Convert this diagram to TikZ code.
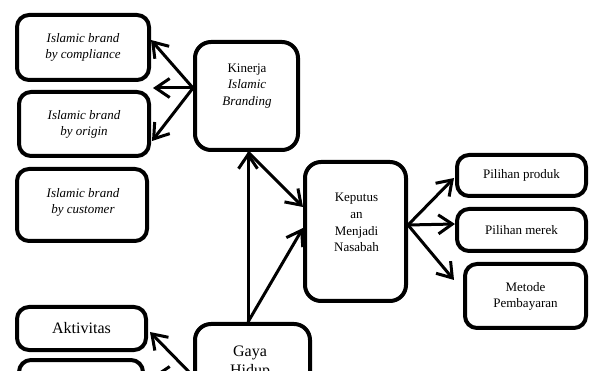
\documentclass[tikz,border=0pt]{standalone}
\usepackage{fontspec}
\setmainfont{Liberation Serif}
\usetikzlibrary{arrows.meta,calc}
\begin{document}
\begin{tikzpicture}[x=1pt,y=-1pt,
  box/.style={draw, line width=4pt, rounded corners=12pt, inner sep=0pt, align=center,
    font=\fontsize{13}{16}\selectfont},
  bigbox/.style={box, rounded corners=16pt},
  txt/.style={inner sep=0pt, align=center, font=\fontsize{13}{16.7}\selectfont},
  bigtxt/.style={inner sep=0pt, align=center, font=\fontsize{16}{19}\selectfont},
  arr/.style={line width=3pt, -{Straight Barb[length=14pt,width=19pt]}}]
\useasboundingbox (0,0) rectangle (589,371);
\clip (0,0) rectangle (589,371);

% left upper boxes
\node[box, minimum width=132pt, minimum height=65pt] (c1) at (83,47.5) {\textit{Islamic brand}\\\textit{by compliance}};
\node[box, minimum width=130pt, minimum height=64pt] (c2) at (84,124) {\textit{Islamic brand}\\\textit{by origin}};
\node[box, minimum width=130pt, minimum height=72pt] (c3) at (82,205) {};
\node[txt, font=\fontsize{13}{16}\selectfont] (c3t) at (83,202) {\textit{Islamic brand}\\\textit{by customer}};

% center boxes
\node[bigbox, minimum width=103pt, minimum height=108pt] (kin) at (246.5,96) {};
\node[txt] (kint) at (247,86) {Kinerja\\\textit{Islamic}\\\textit{Branding}};

\node[bigbox, minimum width=101pt, minimum height=139pt] (kep) at (355.5,231.5) {};
\node[txt] (kept) at (356.5,222.5) {Keputus\\an\\Menjadi\\Nasabah};

\node[bigbox, minimum width=115pt, minimum height=108pt] (gay) at (252.5,378) {};
\node[bigtxt] (gayt) at (250,362.5) {Gaya\\Hidup};

% right boxes
\node[box, minimum width=129pt, minimum height=41pt] (p1) at (521.5,175.5) {Pilihan produk};
\node[box, minimum width=129pt, minimum height=42pt] (p2) at (521.5,230) {Pilihan merek};
\node[box, minimum width=121pt, minimum height=64pt] (p3) at (525.5,296) {Metode\\Pembayaran};

% lower left boxes
\node[box, minimum width=129pt, minimum height=43pt, font=\fontsize{16}{19}\selectfont] (akt) at (81.5,328.5) {Aktivitas};
\node[box, minimum width=124pt, minimum height=43pt] (b2) at (81,381.5) {};

% arrows
\draw[arr] ($(kin.west)+(0,-8)$) -- ($(c1.east)+(0,-7.5)$);
\draw[arr] ($(kin.west)+(0,-8)$) -- ($(c2.north east)+(2,-2)$);
\draw[arr] ($(kin.west)+(0,-8)$) -- ($(c2.east)+(1,17)$);

\draw[arr] ($(gay.north)+(-4.5,0)$) -- ($(kin.south)+(1.5,0)$);
\draw[arr] ($(kin.south)+(1.5,0)$) -- ($(kep.west)+(0,-24.5)$);
\draw[arr] ($(gay.north)+(-4.5,0)$) -- ($(kep.west)+(0,-3.5)$);

\draw[arr] ($(kep.east)+(0,-6.5)$) -- ($(p1.west)+(-1,2.5)$);
\draw[arr] ($(kep.east)+(0,-6.5)$) -- ($(p2.west)+(0,-6)$);
\draw[arr] ($(kep.east)+(0,-6.5)$) -- ($(p3.west)+(-9,-16)$);

\draw[arr] ($(gay.west)+(0,-2)$) -- ($(akt.east)+(2,3.5)$);
\draw[arr] ($(gay.west)+(0,-2)$) -- ($(b2.east)+(8,-5.5)$);
\end{tikzpicture}
\end{document}
